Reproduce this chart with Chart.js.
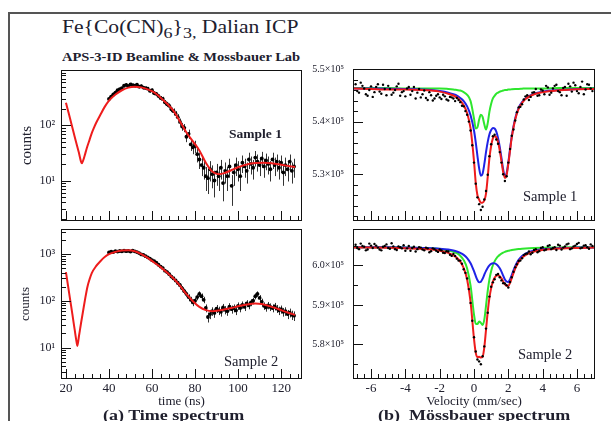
<!DOCTYPE html>
<html>
<head>
<meta charset="utf-8">
<script src="https://cdn.jsdelivr.net/npm/chart.js@4.4.1/dist/chart.umd.min.js"></script>
<style>
  body { margin: 0; width: 611px; height: 421px; background: #fff; position: relative; overflow: hidden; font-family: "Liberation Serif", serif; color: #20202e; }
  canvas { position: absolute; }
  #frame { position: absolute; left: 8px; top: 12px; width: 603px; height: 409px; border-top: 2px solid #555; border-left: 2px solid #555; }
  .txt { position: absolute; white-space: pre; transform-origin: 0 0; }
</style>
</head>
<body>
<div id="frame"></div>
<div class="txt" style="left:62px;top:18px;font-size:18px;line-height:18px;transform:scaleX(1.2)">Fe{Co(CN)<sub>6</sub>}<sub>3,</sub> Dalian ICP</div>
<div class="txt" style="left:62px;top:51px;font-size:12.5px;line-height:12.5px;font-weight:bold;transform:scaleX(1.16)">APS-3-ID Beamline &amp; Mossbauer Lab</div>

<canvas id="time1" width="288" height="159" style="left:18px;top:66px"></canvas>
<canvas id="time2" width="288" height="184" style="left:18px;top:225px"></canvas>
<canvas id="moss1" width="299" height="163" style="left:300px;top:62px"></canvas>
<canvas id="moss2" width="299" height="184" style="left:300px;top:225px"></canvas>

<div class="txt" style="left:229px;top:127px;font-size:13.5px;line-height:13.5px;font-weight:bold">Sample 1</div>
<div class="txt" style="left:224px;top:354px;font-size:14.5px;line-height:14.5px">Sample 2</div>
<div class="txt" style="left:523px;top:189px;font-size:14.5px;line-height:14.5px">Sample 1</div>
<div class="txt" style="left:518px;top:347px;font-size:14.5px;line-height:14.5px">Sample 2</div>

<div class="txt" style="left:103px;top:408px;font-size:15px;line-height:15px;font-weight:bold;transform:scaleX(1.2)">(a) Time spectrum</div>
<div class="txt" style="left:378px;top:408px;font-size:15px;line-height:15px;font-weight:bold;transform:scaleX(1.2)">(b)  Mössbauer spectrum</div>

<script>
// time spectra (counts per channel)
const timeChannels = [40, 41, 42, 43, 44, 45, 46, 47, 48, 49, 50, 51, 52, 53, 54, 55, 56, 57, 58, 59,
  60, 61, 62, 63, 64, 65, 66, 67, 68, 69, 70, 71, 72, 73, 74, 75, 76, 77, 78, 79,
  80, 81, 82, 83, 84, 85, 86, 87, 88, 89, 90, 91, 92, 93, 94, 95, 96, 97, 98, 99,
  100, 101, 102, 103, 104, 105, 106, 107, 108, 109, 110, 111, 112, 113, 114, 115, 116, 117, 118, 119,
  120, 121, 122, 123, 124, 125, 126];
const sample1Counts = [300, 330, 360, 390, 430, 450, 470, 520, 540, 510,
  550, 530, 520, 545, 500, 510, 480, 470, 460, 420,
  430, 380, 370, 340, 310, 300, 260, 240, 225, 195,
  180, 160, 140, 115, 95, 90, 62, 70, 45, 40,
  42, 30, 24, 19, 17, 12, 11, 16, 13, 10,
  14, 12, 17, 9, 15, 12, 18, 8, 14, 19,
  16, 12, 21, 18, 15, 24, 20, 17, 26, 22,
  19, 25, 18, 23, 20, 16, 24, 19, 22, 17,
  21, 14, 19, 16, 22, 15, 18];
const sample2Counts = [1080, 1120, 1100, 1150, 1130, 1160, 1140, 1180, 1150, 1170,
  1130, 1180, 1140, 1100, 1050, 980, 960, 900, 850, 800,
  740, 700, 650, 590, 540, 500, 440, 410, 370, 330,
  300, 270, 240, 215, 185, 160, 140, 120, 105, 92,
  100, 120, 140, 125, 105, 70, 45, 52, 60, 55,
  68, 62, 58, 72, 64, 60, 75, 66, 70, 62,
  78, 70, 82, 74, 88, 80, 92, 100, 125, 140,
  115, 95, 78, 72, 80, 74, 70, 76, 68, 62,
  66, 58, 60, 52, 56, 50, 48];

const fitTime1 = [20, 21, 22, 23, 24, 25, 26, 27, 27.4, 28, 29, 30, 31, 32, 33, 34, 36, 38, 40,
  43, 46, 49, 52, 55, 58, 61, 64, 67, 70, 73, 76, 79, 82, 85, 88, 91, 94, 97, 100,
  104, 108, 112, 116, 120, 124, 126.5];
const fitCounts1 = [256, 182, 129, 90, 63, 45, 32, 22, 20.5, 23, 31, 42, 55, 72, 90, 110, 155, 215, 280,
  360, 430, 480, 500, 485, 445, 395, 316, 245, 182, 117, 74, 51, 35, 21, 14.5, 13, 13.8, 15.5, 17.4,
  19.5, 20.7, 21, 20.4, 19.3, 18.2, 17.6];
const fitTime2 = [20, 21, 22, 23, 24, 25, 25.3, 26, 27, 28, 29, 30, 31, 32, 34, 36, 38, 40,
  43, 46, 49, 52, 55, 58, 61, 64, 67, 70, 73, 76, 79, 82, 85, 88, 91, 94, 97, 100,
  104, 108, 111, 114, 117, 120, 123, 126.5];
const fitCounts2 = [410, 205, 102, 51, 25, 12.6, 10.8, 17, 33, 62, 115, 200, 290, 390, 550, 700, 860, 990,
  1110, 1190, 1210, 1150, 1000, 830, 660, 525, 400, 300, 210, 138, 98, 74, 63, 60, 62, 66, 70, 76,
  83, 87, 85, 78, 71, 63, 56, 50];

// Mossbauer spectra, counts in units of 10^5 (two folded halves)
const mossVelocity = [-6.9, -6.7, -6.5, -6.3, -6.1, -5.9, -5.7, -5.5, -5.3, -5.1,
  -4.9, -4.7, -4.5, -4.3, -4.1, -3.9, -3.7, -3.5, -3.3, -3.1,
  -2.9, -2.7, -2.5, -2.3, -2.1, -1.9, -1.7, -1.5, -1.3, -1.1,
  -0.9, -0.7, -0.5, -0.3, -0.1, 0.1, 0.3, 0.5, 0.7, 0.9,
  1.1, 1.3, 1.5, 1.7, 1.9, 2.1, 2.3, 2.5, 2.7, 2.9,
  3.1, 3.3, 3.5, 3.7, 3.9, 4.1, 4.3, 4.5, 4.7, 4.9,
  5.1, 5.3, 5.5, 5.7, 5.9, 6.1, 6.3, 6.5, 6.7, 6.9];
const moss1Counts = [5.471, 5.455, 5.468, 5.452, 5.460, 5.447, 5.466, 5.457, 5.470, 5.450,
  5.462, 5.455, 5.467, 5.449, 5.458, 5.463, 5.451, 5.466, 5.455, 5.446,
  5.459, 5.441, 5.450, 5.444, 5.452, 5.443, 5.448, 5.440, 5.446, 5.439,
  5.441, 5.430, 5.420, 5.400, 5.355, 5.282, 5.243, 5.238, 5.268, 5.334,
  5.372, 5.366, 5.342, 5.300, 5.296, 5.348, 5.385, 5.418, 5.428, 5.442,
  5.450, 5.447, 5.456, 5.449, 5.461, 5.452, 5.465, 5.455, 5.468, 5.458,
  5.450, 5.466, 5.472, 5.457, 5.469, 5.454, 5.476, 5.461, 5.470, 5.458];
const moss2Counts = [6.052, 6.041, 6.049, 6.038, 6.055, 6.044, 6.050, 6.040, 6.047, 6.053,
  6.042, 6.048, 6.039, 6.046, 6.051, 6.043, 6.037, 6.047, 6.041, 6.045,
  6.038, 6.043, 6.036, 6.041, 6.034, 6.038, 6.031, 6.035, 6.024, 6.024,
  6.012, 6.004, 5.981, 5.940, 5.860, 5.782, 5.757, 5.770, 5.840, 5.921,
  5.957, 5.976, 5.970, 5.955, 5.950, 5.958, 5.984, 6.003, 6.012, 6.026,
  6.030, 6.028, 6.039, 6.033, 6.044, 6.038, 6.049, 6.041, 6.046, 6.052,
  6.040, 6.048, 6.055, 6.043, 6.050, 6.057, 6.045, 6.051, 6.042, 6.049];
const mossVelocityFold = [-6.8, -6.6, -6.4, -6.2, -6.0, -5.8, -5.6, -5.4, -5.2, -5.0,
  -4.8, -4.6, -4.4, -4.2, -4.0, -3.8, -3.6, -3.4, -3.2, -3.0,
  -2.8, -2.6, -2.4, -2.2, -2.0, -1.8, -1.6, -1.4, -1.2, -1.0,
  -0.8, -0.6, -0.4, -0.2, 0.0, 0.2, 0.4, 0.6, 0.8, 1.0,
  1.2, 1.4, 1.6, 1.8, 2.0, 2.2, 2.4, 2.6, 2.8, 3.0,
  3.2, 3.4, 3.6, 3.8, 4.0, 4.2, 4.4, 4.6, 4.8, 5.0,
  5.2, 5.4, 5.6, 5.8, 6.0, 6.2, 6.4, 6.6, 6.8];
const moss1CountsFold = [5.458, 5.474, 5.463, 5.449, 5.467, 5.456, 5.471, 5.453, 5.462, 5.468,
  5.451, 5.460, 5.472, 5.456, 5.448, 5.466, 5.458, 5.444, 5.462, 5.452,
  5.445, 5.456, 5.440, 5.449, 5.446, 5.451, 5.442, 5.447, 5.444, 5.445,
  5.437, 5.429, 5.413, 5.383, 5.322, 5.256, 5.232, 5.252, 5.299, 5.357,
  5.375, 5.358, 5.322, 5.287, 5.322, 5.373, 5.402, 5.427, 5.433, 5.448,
  5.441, 5.455, 5.462, 5.450, 5.459, 5.468, 5.451, 5.463, 5.470, 5.456,
  5.464, 5.449, 5.467, 5.474, 5.458, 5.466, 5.452, 5.471, 5.463];
const moss2CountsFold = [6.044, 6.055, 6.047, 6.040, 6.050, 6.054, 6.045, 6.038, 6.049, 6.044,
  6.056, 6.041, 6.048, 6.043, 6.037, 6.049, 6.044, 6.035, 6.046, 6.040,
  6.045, 6.033, 6.043, 6.037, 6.040, 6.032, 6.036, 6.027, 6.029, 6.017,
  6.012, 5.990, 5.967, 5.905, 5.818, 5.762, 5.750, 5.795, 5.880, 5.946,
  5.965, 5.978, 5.962, 5.954, 5.944, 5.970, 5.995, 6.011, 6.018, 6.029,
  6.035, 6.032, 6.041, 6.036, 6.046, 6.040, 6.051, 6.044, 6.039, 6.050,
  6.045, 6.053, 6.041, 6.048, 6.054, 6.043, 6.050, 6.046, 6.053];

const mossFitVelocity = [-7, -6, -5, -4, -3, -2.5, -2, -1.5, -1.2, -1, -0.8, -0.6, -0.4, -0.2,
  0, 0.1, 0.2, 0.3, 0.4, 0.5, 0.6, 0.7, 0.8, 0.9, 1, 1.1, 1.2, 1.3, 1.4, 1.5, 1.6, 1.7, 1.8, 1.9, 2, 2.1, 2.2,
  2.4, 2.6, 2.8, 3, 3.5, 4, 5, 6, 7];
const moss1Green = [5.464, 5.464, 5.464, 5.463, 5.463, 5.463, 5.463, 5.462, 5.461, 5.460, 5.459, 5.456, 5.451, 5.439,
  5.406, 5.387, 5.389, 5.404, 5.413, 5.409, 5.395, 5.385, 5.397, 5.419, 5.434, 5.444, 5.449, 5.453, 5.455, 5.457, 5.458, 5.459, 5.460, 5.460, 5.461, 5.461, 5.4615,
  5.462, 5.462, 5.4625, 5.463, 5.463, 5.463, 5.464, 5.464, 5.464];
const moss1Blue = [5.463, 5.4628, 5.4626, 5.462, 5.461, 5.460, 5.458, 5.455, 5.452, 5.4495, 5.445, 5.439, 5.429, 5.412,
  5.383, 5.361, 5.335, 5.311, 5.297, 5.301, 5.319, 5.342, 5.3615, 5.376, 5.384, 5.388, 5.387, 5.381, 5.369, 5.352, 5.331, 5.309, 5.297, 5.302, 5.3225, 5.348, 5.372,
  5.406, 5.426, 5.437, 5.444, 5.453, 5.457, 5.460, 5.462, 5.4625];
const moss1Red = [5.463, 5.462, 5.461, 5.461, 5.460, 5.459, 5.457, 5.453, 5.4496, 5.446, 5.440, 5.431, 5.416, 5.387,
  5.325, 5.284, 5.260, 5.2515, 5.2456, 5.246, 5.250, 5.263, 5.295, 5.331, 5.354, 5.368, 5.372, 5.370, 5.361, 5.345, 5.325, 5.304, 5.293, 5.2985, 5.3195, 5.345, 5.370,
  5.404, 5.424, 5.4355, 5.443, 5.452, 5.456, 5.4595, 5.4615, 5.462];
const moss2Green = [6.0461, 6.0459, 6.0456, 6.0451, 6.0441, 6.0432, 6.0415, 6.0383, 6.0346, 6.0307, 6.0243, 6.0133, 5.9923, 5.9486,
  5.8756, 5.8526, 5.8516, 5.8581, 5.8546, 5.8490, 5.8626, 5.8976, 5.9356, 5.9651, 5.9859, 6.0003, 6.0101, 6.0173, 6.0226, 6.0266, 6.0296, 6.0320, 6.0340, 6.0356, 6.0369, 6.0379, 6.0388,
  6.0403, 6.0414, 6.0422, 6.0428, 6.0438, 6.0445, 6.0455, 6.0459, 6.0461];
const moss2Blue = [6.0460, 6.0459, 6.0456, 6.0451, 6.0442, 6.0434, 6.0422, 6.0399, 6.0375, 6.0352, 6.0318, 6.0266, 6.0185, 6.0054,
  5.9852, 5.9733, 5.9628, 5.9573, 5.9587, 5.9661, 5.9762, 5.9860, 5.9940, 5.9999, 6.0036, 6.0053, 6.0050, 6.0029, 5.9989, 5.9926, 5.9842, 5.9741, 5.9643, 5.9591, 5.9579, 5.9647, 5.9756,
  5.9981, 6.0140, 6.0239, 6.0299, 6.0377, 6.0411, 6.0438, 6.0449, 6.0454];
const moss2Red = [6.0455, 6.0452, 6.0446, 6.0436, 6.0417, 6.0400, 6.0371, 6.0316, 6.0255, 6.0193, 6.0095, 5.9933, 5.9642, 5.9074,
  5.8142, 5.7793, 5.7678, 5.7688, 5.7667, 5.7685, 5.7922, 5.8370, 5.8830, 5.9184, 5.9429, 5.9590, 5.9685, 5.9736, 5.9749, 5.9726, 5.9672, 5.9595, 5.9517, 5.9481, 5.9482, 5.9560, 5.9678,
  5.9918, 6.0088, 6.0195, 6.0261, 6.0349, 6.0390, 6.0427, 6.0442, 6.0449];

// tick labels
const timeTickLabels = [20, 40, 60, 80, 100, 120];
const velocityTickLabels = [-6, -4, -2, 0, 2, 4, 6];
const countTicks1 = [10, 100];
const countTicks2 = [10, 100, 1000];
const mossTicks1 = [5.3, 5.4, 5.5];
const mossTicks2 = [5.8, 5.9, 6.0];

const SERIF = "Liberation Serif";
const INK = "#20202e";
const RED = "#ee1c1c";
const BLUE = "#1f22e6";
const GREEN = "#2ee62e";
const SUP = { "0": "⁰", "1": "¹", "2": "²", "3": "³", "4": "⁴", "5": "⁵" };

function pairs(xs, ys) {
  return xs.map((x, i) => ({ x, y: ys[i] }));
}

function linearTicks(min, max, step, majorEvery) {
  const out = [];
  for (let i = Math.ceil(min / step - 1e-9); i * step <= max + 1e-9; i++) {
    out.push({ v: i * step, major: i % majorEvery === 0 });
  }
  return out;
}

function logTicks(min, max) {
  const out = [];
  for (let d = Math.floor(Math.log10(min)); d <= Math.ceil(Math.log10(max)); d++) {
    for (let k = 1; k < 10; k++) {
      const v = k * Math.pow(10, d);
      if (v >= min && v <= max) out.push({ v, major: k === 1 });
    }
  }
  return out;
}

function fixedSize(size) {
  return (scale) => {
    if (scale.isHorizontal()) scale.height = size;
    else scale.width = size;
    scale.paddingTop = scale.paddingBottom = scale.paddingLeft = scale.paddingRight = 0;
  };
}

// frame, inward ticks and error bars
const panelDecor = {
  id: "panelDecor",
  beforeDatasetsDraw(chart, args, opts) {
    if (!opts.errorScale) return;
    const { ctx, chartArea: a, scales: { x, y } } = chart;
    ctx.save();
    ctx.beginPath();
    ctx.rect(a.left, a.top, a.width, a.height);
    ctx.clip();
    ctx.strokeStyle = "#333";
    ctx.lineWidth = 1;
    ctx.beginPath();
    for (const p of chart.data.datasets[0].data) {
      const e = Math.sqrt(p.y) * opts.errorScale;
      const px = Math.round(x.getPixelForValue(p.x)) + 0.5;
      ctx.moveTo(px, y.getPixelForValue(Math.max(p.y - e, 0.5)));
      ctx.lineTo(px, y.getPixelForValue(p.y + e));
    }
    ctx.stroke();
    ctx.restore();
  },
  afterDatasetsDraw(chart, args, opts) {
    const { ctx, chartArea: a, scales: { x, y } } = chart;
    ctx.save();
    ctx.strokeStyle = "#111";
    ctx.lineWidth = 1;
    ctx.strokeRect(a.left + 0.5, a.top + 0.5, a.width - 1, a.height - 1);
    ctx.beginPath();
    for (const t of linearTicks(x.min, x.max, opts.xStep, opts.xMajor)) {
      const px = Math.round(x.getPixelForValue(t.v)) + 0.5;
      ctx.moveTo(px, a.bottom);
      ctx.lineTo(px, a.bottom - (t.major ? 10 : 5));
    }
    const yTicks = opts.yLog ? logTicks(y.min, y.max) : linearTicks(y.min, y.max, opts.yStep, opts.yMajor);
    for (const t of yTicks) {
      const py = Math.round(y.getPixelForValue(t.v)) + 0.5;
      ctx.moveTo(a.left, py);
      ctx.lineTo(a.left + (t.major ? 10 : 5), py);
    }
    ctx.stroke();
    ctx.restore();
  },
};

function hiddenX(min, max) {
  return { type: "linear", min, max, display: false, afterFit: fixedSize(0) };
}

function shownX(min, max, labels, title) {
  return {
    type: "linear", min, max,
    grid: { display: false, drawTicks: false },
    border: { display: false },
    ticks: { padding: 2, maxRotation: 0, autoSkip: false, color: INK, font: { family: SERIF, size: 13 } },
    afterBuildTicks: (s) => { s.ticks = labels.map((v) => ({ value: v })); },
    afterFit: fixedSize(30),
    title: { display: true, text: title, color: INK, padding: 0, font: { family: SERIF, size: 13 } },
  };
}

function countAxis(min, max, labels, titleSize) {
  return {
    type: "logarithmic", min, max,
    grid: { display: false, drawTicks: false },
    border: { display: false },
    ticks: {
      padding: 6, color: INK, font: { family: SERIF, size: 12 },
      callback: (v) => "10" + SUP[Math.round(Math.log10(v))],
    },
    afterBuildTicks: (s) => { s.ticks = labels.map((v) => ({ value: v })); },
    afterFit: fixedSize(43),
    title: { display: true, text: "counts", color: INK, padding: 0, font: { family: SERIF, size: titleSize } },
  };
}

function mossAxis(min, max, labels) {
  return {
    type: "linear", min, max,
    grid: { display: false, drawTicks: false },
    border: { display: false },
    ticks: {
      padding: 9, color: INK, font: { family: SERIF, size: 10 },
      callback: (v) => v.toFixed(1) + "×10⁵",
    },
    afterBuildTicks: (s) => { s.ticks = labels.map((v) => ({ value: v })); },
    afterFit: fixedSize(53),
  };
}

function buildChart(id, datasets, scales, padding, decor) {
  return new Chart(document.getElementById(id), {
    type: "scatter",
    data: { datasets },
    options: {
      animation: false,
      responsive: false,
      devicePixelRatio: 1,
      layout: { padding },
      plugins: { legend: { display: false }, tooltip: { enabled: false }, panelDecor: decor },
      scales,
    },
    plugins: [panelDecor],
  });
}

function timePoints(counts) {
  return { data: pairs(timeChannels, counts), showLine: false, pointRadius: 1.9, pointBorderWidth: 0, backgroundColor: "#000", borderColor: "#000", order: 1 };
}
function curve(xs, ys, color, order) {
  return { data: pairs(xs, ys), showLine: true, pointRadius: 0, borderColor: color, borderWidth: 2, tension: 0.4, cubicInterpolationMode: "monotone", order };
}
function mossPoints(xs, counts) {
  return { data: pairs(xs, counts), showLine: false, pointRadius: 1.2, pointBorderWidth: 0, backgroundColor: "#000", borderColor: "#000", order: 0 };
}

const timeDecor = { xStep: 4, xMajor: 5, yLog: true, errorScale: 1.6 };

buildChart("time1",
  [timePoints(sample1Counts), curve(fitTime1, fitCounts1, RED, 0)],
  { x: hiddenX(17.7, 129.7), y: countAxis(1.85, 1000, countTicks1, 15) },
  { top: 3, right: 3, left: 0, bottom: 0 }, timeDecor);

buildChart("time2",
  [timePoints(sample2Counts), curve(fitTime2, fitCounts2, RED, 0)],
  { x: shownX(17.7, 129.7, timeTickLabels, "time (ns)"), y: countAxis(2.12, 3430, countTicks2, 13) },
  { top: 0, right: 3, left: 0, bottom: 0 }, timeDecor);

buildChart("moss1",
  [mossPoints(mossVelocity, moss1Counts), mossPoints(mossVelocityFold, moss1CountsFold),
   curve(mossFitVelocity, moss1Red, RED, 1), curve(mossFitVelocity, moss1Blue, BLUE, 2), curve(mossFitVelocity, moss1Green, GREEN, 3)],
  { x: hiddenX(-7.05, 7.05), y: mossAxis(5.211, 5.5, mossTicks1) },
  { top: 7, right: 3, left: 0, bottom: 0 },
  { xStep: 0.4, xMajor: 5, yStep: 0.02, yMajor: 5 });

buildChart("moss2",
  [mossPoints(mossVelocity, moss2Counts), mossPoints(mossVelocityFold, moss2CountsFold),
   curve(mossFitVelocity, moss2Red, RED, 1), curve(mossFitVelocity, moss2Blue, BLUE, 2), curve(mossFitVelocity, moss2Green, GREEN, 3)],
  { x: shownX(-7.05, 7.05, velocityTickLabels, "Velocity (mm/sec)"), y: mossAxis(5.7125, 6.092, mossTicks2) },
  { top: 0, right: 3, left: 0, bottom: 0 },
  { xStep: 0.4, xMajor: 5, yStep: 0.05, yMajor: 2 });
</script>
</body>
</html>
